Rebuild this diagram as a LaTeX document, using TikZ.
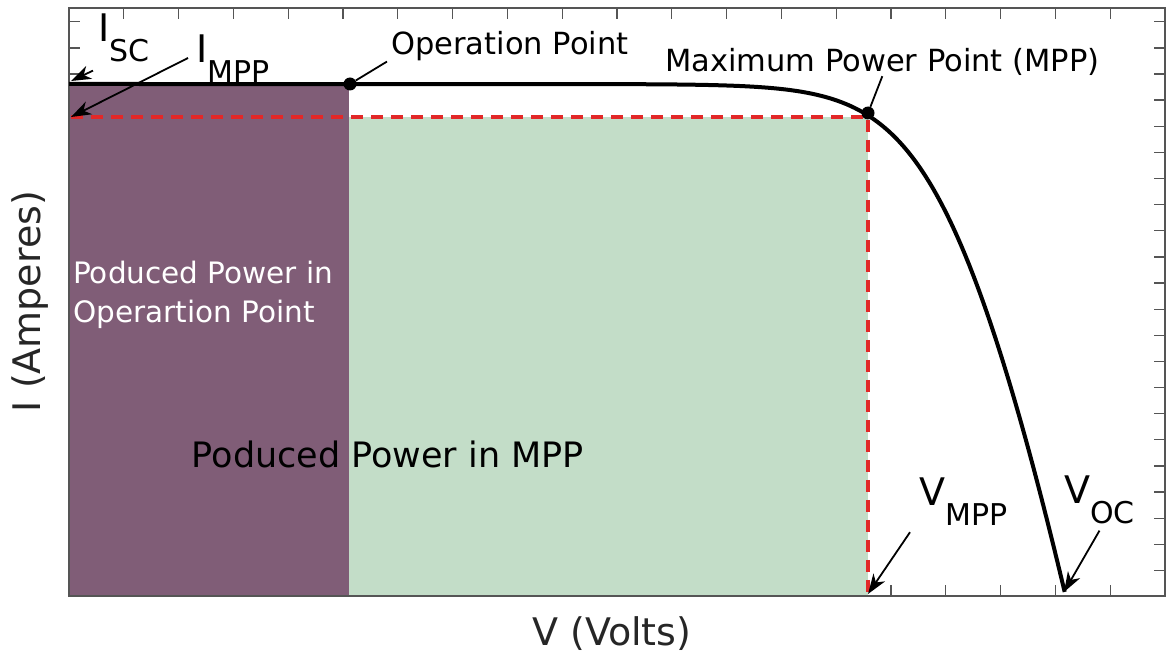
\documentclass[tikz,border=0pt]{standalone}
\usepackage{fontspec}
\setmainfont{DejaVu Sans}
\usepackage{tikz}
\usetikzlibrary{arrows.meta}

\definecolor{opfill}{RGB}{128,93,119}
\definecolor{mppfill}{RGB}{195,221,200}
\definecolor{guidered}{RGB}{226,40,40}
\definecolor{framegray}{RGB}{85,85,85}
\newcommand{\sublbl}[2]{#1\raisebox{-20pt}{\fontsize{30}{30}\selectfont #2}}

\begin{document}
\begin{tikzpicture}[x=1pt,y=-1pt,
  every node/.style={inner sep=0pt},
  bigfont/.style={font=\fontsize{38}{44}\selectfont},
  labelfont/.style={font=\fontsize{30.5}{36}\selectfont},
  tick/.style={framegray,line width=1.3pt},
  callout/.style={line width=1.8pt},
  arrowcallout/.style={callout,-{Stealth[length=20pt,width=14pt,inset=6pt]}},
  dot/.style={circle,fill=black,minimum size=13pt},
  guide/.style={guidered,line width=3.5pt,dash pattern=on 12pt off 8pt}]
\useasboundingbox (0,0) rectangle (1166,655);
% ticks
\foreach \k in {1,...,19} {
  \draw[tick] (69+\k*54.8,8) -- ++(0,11);
  \draw[tick] (69+\k*54.8,596) -- ++(0,-11);
}
\foreach \k in {1,...,22} {
  \draw[tick] (69,596.6-\k*26.13) -- ++(11,0);
  \draw[tick] (1165,596.6-\k*26.13) -- ++(-11,0);
}
% power areas
\fill[opfill] (69,84) rectangle (349,596);
\fill[mppfill] (349,117) rectangle (868,596);
\draw[framegray,line width=1.6pt] (69,8) rectangle (1165,596);
% points on the axes
\coordinate (iscpt) at (71,81);
\coordinate (impppt) at (71,117);
\coordinate (corner) at (868,117);
\coordinate (vmpppt) at (868,594);
\coordinate (vocpt) at (1064,592);
\draw[guide] (impppt) -- (corner) -- (vmpppt);
% I-V curve
\draw[line width=4pt] (69,84) -- plot[domain=-4.6:6.2305,samples=160,smooth,variable=\u] ({785+45*\u-0.15*(512.6-exp(\u))},{84+exp(\u)});
\node[dot] (op) at (350,84) {};
\node[dot] (mpp) at (868,113) {};
\node[labelfont,anchor=base west] (oplabel) at (391,55) {Operation Point};
\node[labelfont,anchor=base west] (mpplabel) at (665,72) {Maximum Power Point (MPP)};
\draw[callout] (oplabel.south west) ++(-4,0) -- (op);
\draw[callout] (mpplabel.south) -- (mpp);
% axis values
\node[bigfont,anchor=base west] (isc) at (98,42) {\sublbl{I}{SC}};
\node[bigfont,anchor=base west] (impp) at (196,63) {\sublbl{I}{MPP}};
\node[bigfont,anchor=base west] (vmpp) at (919,505) {\sublbl{V}{MPP}};
\node[bigfont,anchor=base west] (voc) at (1064,503) {\sublbl{V}{OC}};
\draw[arrowcallout] (isc.south west) ++(-5,8) -- (iscpt);
\draw[arrowcallout] (impp.base west) ++(-8,-5) -- (impppt);
\draw[arrowcallout] (vmpp.south west) ++(-9,7) -- (vmpppt);
\draw[arrowcallout] (voc.south) ++(0,7) -- (vocpt);
% area texts
\node[font=\fontsize{29.5}{39}\selectfont,text=white,align=left,anchor=north west] (optext) at (73,261) {Poduced Power in\\Operartion Point};
\node[font=\fontsize{35}{42}\selectfont,anchor=base west] (mpptext) at (191.5,467) {Poduced Power in MPP};
% axis titles
\node[bigfont,text=black!85,anchor=base west] (vaxis) at (532,645) {V (Volts)};
\node[bigfont,text=black!85,rotate=90,anchor=base] (iaxis) at (40,301.5) {I (Amperes)};
\end{tikzpicture}
\end{document}
